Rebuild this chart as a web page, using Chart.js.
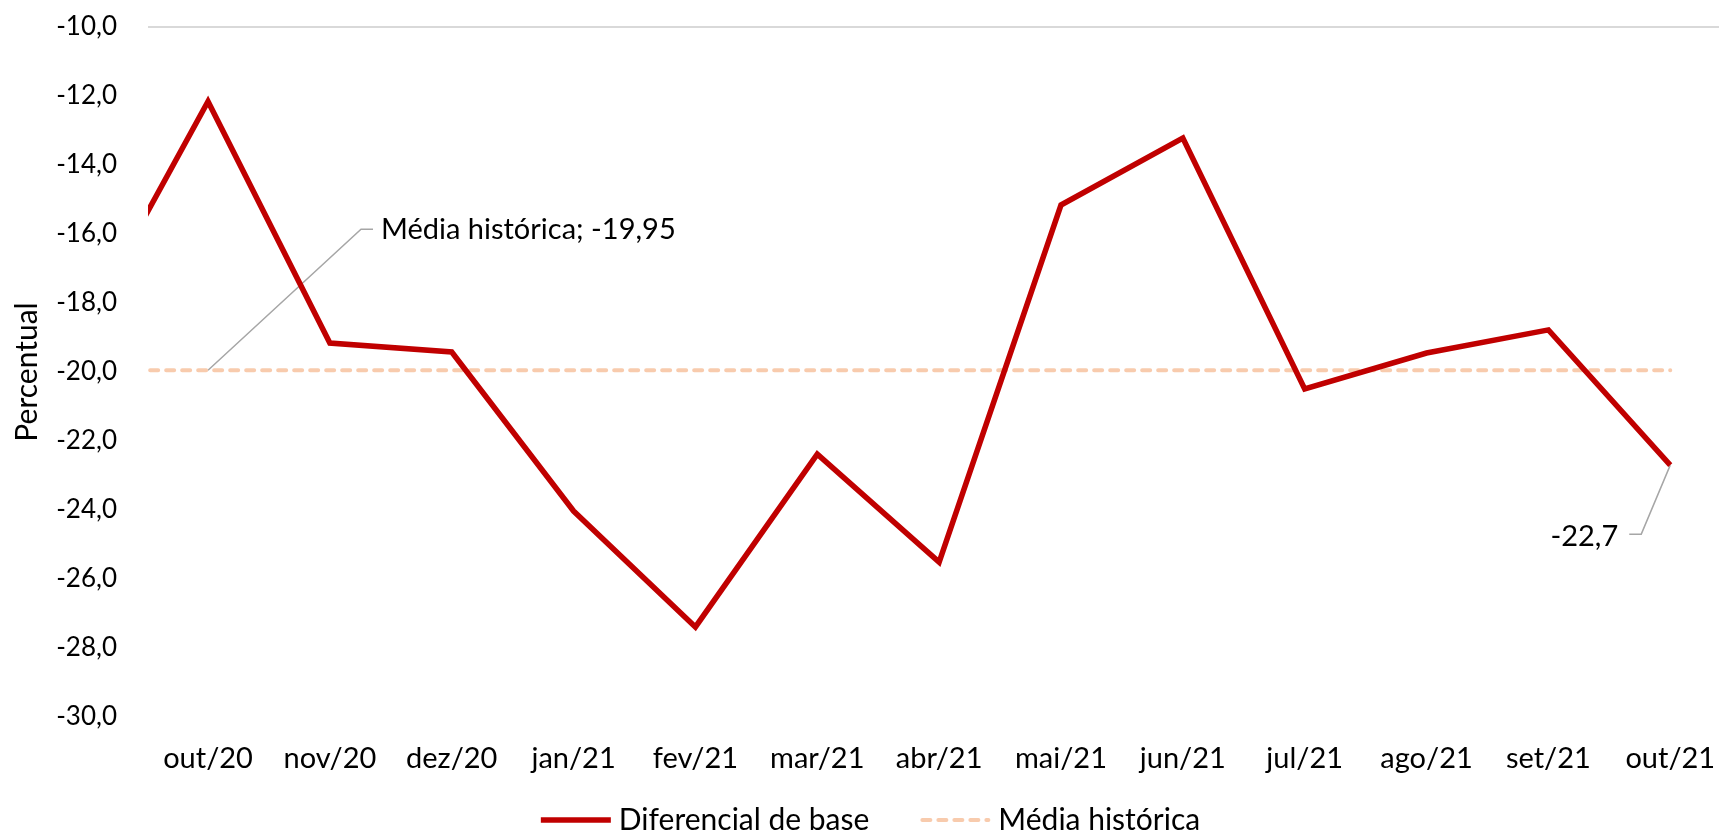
<!DOCTYPE html>
<html>
<head>
<meta charset="utf-8">
<script src="https://cdn.jsdelivr.net/npm/chart.js@4/dist/chart.umd.min.js"></script>
<style>
html,body{margin:0;padding:0;background:#fff;overflow:hidden}
#wrap{width:1719px;height:835px;position:relative}
</style>
</head>
<body>
<div id="wrap"><canvas id="c" width="1719" height="835"></canvas></div>
<script>
// Month labels (first one, set/20, lies just outside the visible plot on the left)
const months = ['set/20','out/20','nov/20','dez/20','jan/21','fev/21','mar/21','abr/21','mai/21','jun/21','jul/21','ago/21','set/21','out/21'];
// Diferencial de base (%)
const diferencialBase = [-18.6, -12.16, -19.16, -19.42, -24.03, -27.39, -22.38, -25.51, -15.16, -13.22, -20.49, -19.45, -18.78, -22.7];
// Média histórica (%)
const mediaHistorica = [-19.95, -19.95, -19.95, -19.95, -19.95, -19.95, -19.95, -19.95, -19.95, -19.95, -19.95, -19.95, -19.95, -19.95];
// Y axis ticks
const yTicks = [-30, -28, -26, -24, -22, -20, -18, -16, -14, -12, -10];

const FONT = 'Lato';
const fmt = (v, d) => v.toFixed(d).replace('.', ',');
const idx = i => i - 1; // x position: out/20 = 0
const toPts = arr => arr.map((v, i) => ({x: idx(i), y: v}));

const annot = {
  id: 'annot',
  beforeDatasetsDraw(chart) {
    const {ctx, scales: {x, y}} = chart;
    ctx.save();
    ctx.strokeStyle = '#a6a6a6';
    ctx.lineWidth = 1.5;
    const mx = x.getPixelForValue(0), my = y.getPixelForValue(mediaHistorica[1]);
    ctx.beginPath();
    ctx.moveTo(mx, my); ctx.lineTo(mx + 153, my - 141); ctx.lineTo(mx + 165, my - 141);
    ctx.stroke();
    const li = diferencialBase.length - 1;
    const lx = x.getPixelForValue(idx(li)), ly = y.getPixelForValue(diferencialBase[li]);
    ctx.beginPath();
    ctx.moveTo(lx, ly); ctx.lineTo(lx - 29, ly + 69); ctx.lineTo(lx - 41, ly + 69);
    ctx.stroke();
    ctx.restore();
  },
  afterDatasetsDraw(chart) {
    const {ctx, scales: {x, y}} = chart;
    ctx.save();
    ctx.font = '29px ' + FONT;
    ctx.fillStyle = '#000';
    ctx.textBaseline = 'middle';
    const mx = x.getPixelForValue(0), my = y.getPixelForValue(mediaHistorica[1]);
    ctx.textAlign = 'left';
    ctx.fillText('Média histórica; ' + fmt(mediaHistorica[1], 2), mx + 173, my - 141);
    const li = diferencialBase.length - 1;
    const lx = x.getPixelForValue(idx(li)), ly = y.getPixelForValue(diferencialBase[li]);
    ctx.textAlign = 'right';
    ctx.fillText(fmt(diferencialBase[li], 1), lx - 52, ly + 71);
    ctx.restore();
  }
};

const legendPlugin = {
  id: 'customLegend',
  afterDraw(chart) {
    const ctx = chart.ctx;
    ctx.save();
    ctx.font = '30px ' + FONT;
    const sample = 70, gap = 8, between = 51;
    const items = chart.data.datasets.map(ds => ({ds, w: ctx.measureText(ds.label).width}));
    const total = items.reduce((a, it) => a + sample + gap + it.w, 0) + between * (items.length - 1);
    let x = chart.width / 2 + 11 - total / 2;
    const y = 820;
    items.forEach(it => {
      const ds = it.ds;
      ctx.save();
      ctx.strokeStyle = ds.borderColor;
      ctx.lineWidth = ds.borderWidth;
      ctx.lineCap = ds.borderDash ? 'round' : 'butt';
      ctx.setLineDash(ds.borderDash || []);
      ctx.beginPath();
      ctx.moveTo(x + (ds.borderDash ? 2 : 0), y);
      ctx.lineTo(x + sample - (ds.borderDash ? 2 : 0), y);
      ctx.stroke();
      ctx.restore();
      ctx.fillStyle = '#000';
      ctx.textAlign = 'left';
      ctx.textBaseline = 'middle';
      ctx.fillText(ds.label, x + sample + gap, y);
      x += sample + gap + it.w + between;
    });
    ctx.restore();
  }
};

new Chart(document.getElementById('c'), {
  type: 'line',
  data: {
    datasets: [
      {
        label: 'Diferencial de base',
        data: toPts(diferencialBase),
        borderColor: '#C00000',
        backgroundColor: '#C00000',
        borderWidth: 5.5,
        pointRadius: 0,
        borderJoinStyle: 'miter',
        borderCapStyle: 'butt',
        tension: 0,
        clip: 0
      },
      {
        label: 'Média histórica',
        data: toPts(mediaHistorica),
        borderColor: '#F8CBAD',
        backgroundColor: '#F8CBAD',
        borderWidth: 4,
        borderDash: [8, 8],
        borderCapStyle: 'round',
        pointRadius: 0,
        tension: 0,
        clip: 0
      }
    ]
  },
  options: {
    responsive: false,
    animation: false,
    devicePixelRatio: 1,
    layout: {padding: {left: 0, right: 0, top: 27, bottom: 56}},
    plugins: {
      tooltip: {enabled: false},
      legend: {display: false}
    },
    scales: {
      x: {
        type: 'linear',
        min: -0.4925,
        max: 12.40,
        afterBuildTicks: s => { s.ticks = months.slice(1).map((_, i) => ({value: i})); },
        afterFit: s => { s.height = 62; },
        ticks: {
          callback: v => months[v + 1],
          font: {family: FONT, size: 29},
          color: '#000',
          padding: 3,
          maxRotation: 0,
          autoSkip: false
        },
        grid: {display: true, drawOnChartArea: false, drawTicks: true, tickLength: 21, color: 'rgba(0,0,0,0)', tickColor: 'rgba(0,0,0,0)'},
        border: {display: false}
      },
      y: {
        min: -30,
        max: -10,
        afterBuildTicks: s => { s.ticks = yTicks.map(v => ({value: v})); },
        afterFit: s => { s.width = 148; },
        ticks: {
          callback: v => fmt(v, 1),
          font: {family: FONT, size: 26},
          color: '#000',
          padding: 3
        },
        grid: {
          drawTicks: true,
          tickLength: 28,
          tickColor: 'rgba(0,0,0,0)',
          lineWidth: 2,
          color: c => (c.tick && c.tick.value === -10) ? '#d9d9d9' : 'rgba(0,0,0,0)'
        },
        border: {display: false},
        title: {
          display: true,
          text: 'Percentual',
          font: {family: FONT, size: 30},
          color: '#000',
          padding: {top: 9, bottom: 0}
        }
      }
    }
  },
  plugins: [annot, legendPlugin]
});
</script>
</body>
</html>
